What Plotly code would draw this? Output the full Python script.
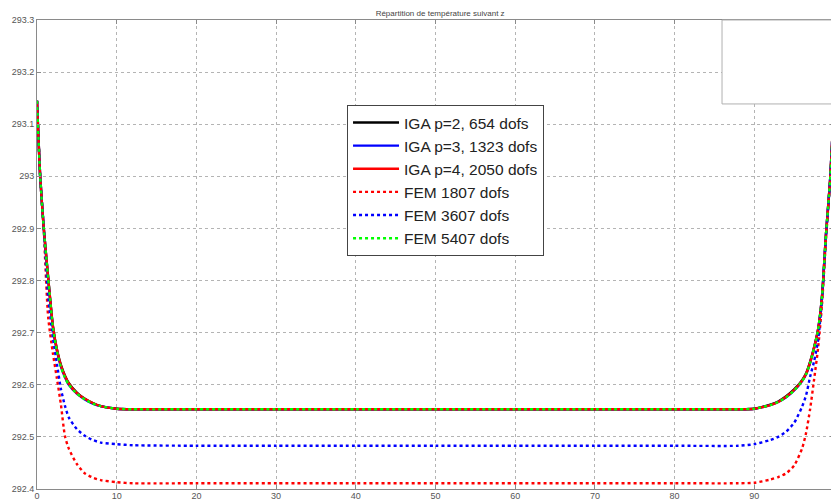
import plotly.graph_objects as go

# Position along z
z = [0, 0.4, 0.85, 1.4, 2.0, 2.5, 3.0, 3.5, 4.0, 5.0, 6.0, 7.0, 8.0, 10, 12,
     20, 30, 40, 50, 60, 70, 80, 88, 90, 92, 93, 94, 95, 96, 96.5, 97, 97.5,
     98, 98.5, 99, 99.5, 100]

iga_p2 = [293.145, 293.0, 292.9, 292.805, 292.712, 292.668, 292.638, 292.618, 292.603,
          292.585, 292.573, 292.565, 292.559, 292.554, 292.553,
          292.553, 292.553, 292.553, 292.553, 292.553, 292.553, 292.553, 292.553,
          292.554, 292.562, 292.568, 292.578, 292.591, 292.609, 292.622, 292.644,
          292.672, 292.706, 292.77, 292.89, 292.99, 293.14]
iga_p3 = [293.145, 293.0, 292.9, 292.805, 292.71, 292.665, 292.635, 292.615, 292.6,
          292.583, 292.572, 292.564, 292.559, 292.554, 292.553,
          292.553, 292.553, 292.553, 292.553, 292.553, 292.553, 292.553, 292.553,
          292.554, 292.561, 292.567, 292.576, 292.589, 292.607, 292.62, 292.642,
          292.67, 292.705, 292.77, 292.89, 292.99, 293.14]
iga_p4 = [293.145, 293.0, 292.9, 292.806, 292.712, 292.667, 292.637, 292.617, 292.602,
          292.584, 292.573, 292.565, 292.559, 292.554, 292.553,
          292.553, 292.553, 292.553, 292.553, 292.553, 292.553, 292.553, 292.553,
          292.554, 292.561, 292.567, 292.577, 292.590, 292.608, 292.621, 292.643,
          292.671, 292.705, 292.77, 292.89, 292.99, 293.14]
fem_1807 = [293.145, 293.0, 292.895, 292.73, 292.66, 292.612, 292.562, 292.502, 292.477,
            292.448, 292.43, 292.422, 292.417, 292.413, 292.411,
            292.411, 292.411, 292.411, 292.411, 292.411, 292.411, 292.411, 292.411,
            292.412, 292.418, 292.423, 292.43, 292.445, 292.478, 292.508, 292.553,
            292.61, 292.67, 292.755, 292.88, 292.99, 293.14]
fem_3607 = [293.145, 293.0, 292.9, 292.77, 292.69, 292.64, 292.592, 292.56, 292.537,
            292.515, 292.502, 292.494, 292.489, 292.486, 292.484,
            292.483, 292.483, 292.483, 292.483, 292.483, 292.483, 292.483, 292.483,
            292.486, 292.494, 292.5, 292.51, 292.527, 292.558, 292.58, 292.615,
            292.645, 292.685, 292.765, 292.885, 292.99, 293.14]
fem_5407 = [293.145, 293.0, 292.9, 292.804, 292.709, 292.664, 292.634, 292.614, 292.6,
            292.583, 292.572, 292.564, 292.559, 292.554, 292.553,
            292.553, 292.553, 292.553, 292.553, 292.553, 292.553, 292.553, 292.553,
            292.554, 292.561, 292.567, 292.576, 292.589, 292.607, 292.62, 292.642,
            292.67, 292.705, 292.77, 292.89, 292.99, 293.14]

names = ["IGA p=2, 654 dofs", "IGA p=3, 1323 dofs", "IGA p=4, 2050 dofs",
         "FEM 1807 dofs", "FEM 3607 dofs", "FEM 5407 dofs"]
series = [iga_p2, iga_p3, iga_p4, fem_1807, fem_3607, fem_5407]
colors = ["#000000", "#0000ff", "#ff0000", "#ff0000", "#0000ff", "#00ff00"]
dashes = ["solid", "solid", "solid", "dot", "dot", "dot"]

x_ticks = [0, 10, 20, 30, 40, 50, 60, 70, 80, 90, 100]
y_ticks = [292.4, 292.5, 292.6, 292.7, 292.8, 292.9, 293.0, 293.1, 293.2, 293.3]
y_ticktext = ["292.4", "292.5", "292.6", "292.7", "292.8", "292.9", "293", "293.1", "293.2", "293.3"]

fig = go.Figure()
for name, ys, c, d in zip(names, series, colors, dashes):
    fig.add_trace(go.Scatter(x=z, y=ys, mode="lines", name=name, cliponaxis=False,
                             line=dict(color=c, width=2.4, dash=d, shape="spline", smoothing=0.6)))

axis_common = dict(showline=True, linecolor="#8a8a8a", linewidth=1, mirror="ticks",
                   ticks="inside", ticklen=4, tickcolor="#8a8a8a",
                   showgrid=True, gridcolor="#b4b4b4", griddash="dot", gridwidth=1,
                   zeroline=False, automargin=False,
                   tickfont=dict(family="Arial", size=9, color="#555555"))

fig.update_xaxes(range=[0, 100], tickvals=x_ticks, ticklabelstandoff=-2, **axis_common)
fig.update_yaxes(range=[292.4, 293.3], tickvals=y_ticks, ticktext=y_ticktext, **axis_common)

fig.update_layout(
    width=831, height=492,
    margin=dict(l=29, r=5, t=12, b=11),
    paper_bgcolor="white", plot_bgcolor="white",
    title=dict(text="Répartition de température suivant z", x=0.52, xanchor="center",
               y=0.99, yanchor="middle", font=dict(family="Arial", size=8, color="#444444")),
    legend=dict(x=0.389, y=0.819, xanchor="left", yanchor="top",
                bgcolor="white", bordercolor="#444444", borderwidth=1,
                itemwidth=46,
                font=dict(family="Arial", size=15.5, color="#222222")),
    showlegend=True,
    shapes=[dict(type="rect", xref="paper", yref="paper", x0=0.8595, x1=1.003,
                 y0=0.821, y1=1.0, fillcolor="white", line=dict(color="#b0b0b0", width=1),
                 layer="above")],
)

fig.write_html("out.html")
